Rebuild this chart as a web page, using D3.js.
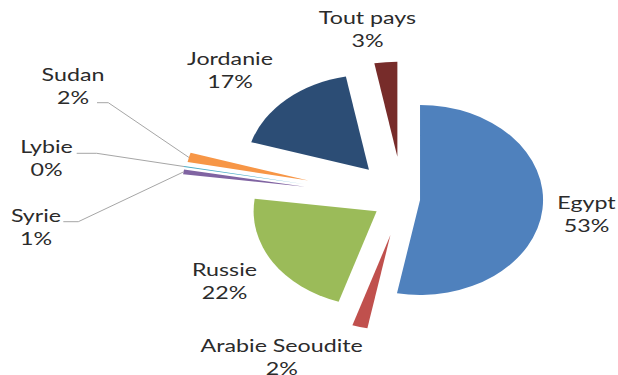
<!DOCTYPE html>
<html>
<head>
<meta charset="utf-8">
<script src="https://cdn.jsdelivr.net/npm/d3@7"></script>
<style>
  html, body { margin: 0; padding: 0; background: #fff; }
  svg { display: block; }
  text { font-family: Lato, "Open Sans", sans-serif; fill: #2b2b2b; }
</style>
</head>
<body>
<svg id="chart" width="618" height="375"></svg>
<script>
// Share by country (percent)
const categories = ["Egypt", "Arabie Seoudite", "Russie", "Syrie", "Lybie", "Sudan", "Jordanie", "Tout pays"];
const values = [53.0, 2.0, 22.1, 0.8, 0.2, 1.6, 17.3, 3.0];

// Slice colours, in the same order as the categories
const colors = ["#4F81BD", "#C0504D", "#9BBB59", "#8064A2", "#4BACC6", "#F79646", "#2C4D75", "#772C2A"];

// How far each slice is pulled out from the centre (pie units)
const explode = {
  "Egypt": 13.6, "Arabie Seoudite": 37.5, "Russie": 23.6, "Syrie": 76.2,
  "Lybie": 76.7, "Sudan": 75, "Jordanie": 38.8, "Tout pays": 42.2
};

// Label anchors (centre x, first baseline) and leader elbows
const labelLayout = {
  "Egypt":           { x: 586.5, y: 209 },
  "Arabie Seoudite": { x: 281.7, y: 352 },
  "Russie":          { x: 224.5, y: 276 },
  "Syrie":           { x: 36,    y: 222, leader: [[63.3, 221.7], [78.3, 221.7]] },
  "Lybie":           { x: 46.5,  y: 153, leader: [[76.7, 153.3], [96.7, 153.3]] },
  "Sudan":           { x: 73,    y: 81,  leader: [[97, 102.7], [108.3, 102.7]] },
  "Jordanie":        { x: 230,   y: 65 },
  "Tout pays":       { x: 367.5, y: 24 }
};

const svg = d3.select("#chart");
const cx = 402.5, cy = 198.7, R = 95, sx = 1.295;
const lineGap = 23.5;

const total = d3.sum(values);
const data = categories.map((c, i) => ({ name: c, value: values[i], color: colors[i] }));

const pie = d3.pie().value(d => d.value).sort(null).startAngle(0).endAngle(2 * Math.PI);
const arc = d3.arc().innerRadius(0).outerRadius(R);
const arcs = pie(data);

const mid = a => (a.startAngle + a.endAngle) / 2;
const offset = a => {
  const m = mid(a), e = explode[a.data.name];
  return [e * Math.sin(m), -e * Math.cos(m)];
};
// pie-space point -> page coordinates
const toPage = (p) => [cx + p[0] * sx, cy + p[1]];

const pieG = svg.append("g").attr("transform", `translate(${cx},${cy}) scale(${sx},1)`);
pieG.selectAll("path")
  .data(arcs)
  .join("path")
  .attr("transform", d => `translate(${offset(d)[0]},${offset(d)[1]})`)
  .attr("d", arc)
  .attr("fill", d => d.data.color);

// Leader lines for the thin slices
arcs.forEach(a => {
  const L = labelLayout[a.data.name];
  if (!L.leader) return;
  const m = mid(a), o = offset(a);
  const end = toPage([o[0] + R * Math.sin(m), o[1] - R * Math.cos(m)]);
  svg.append("path")
    .attr("d", d3.line()([...L.leader, end]))
    .attr("fill", "none")
    .attr("stroke", "#a6a6a6")
    .attr("stroke-width", 1);
});

// Data labels: name on the first line, rounded share on the second
const fmt = v => Math.round(v / total * 100) + "%";
const lab = svg.append("g");
arcs.forEach(a => {
  const L = labelLayout[a.data.name];
  const g = lab.append("g").attr("transform", `translate(${L.x},${L.y}) scale(1.29,1)`);
  g.append("text").attr("text-anchor", "middle").attr("font-size", 18).text(a.data.name);
  g.append("text").attr("text-anchor", "middle").attr("font-size", 18).attr("y", lineGap).text(fmt(a.data.value));
});
</script>
</body>
</html>
